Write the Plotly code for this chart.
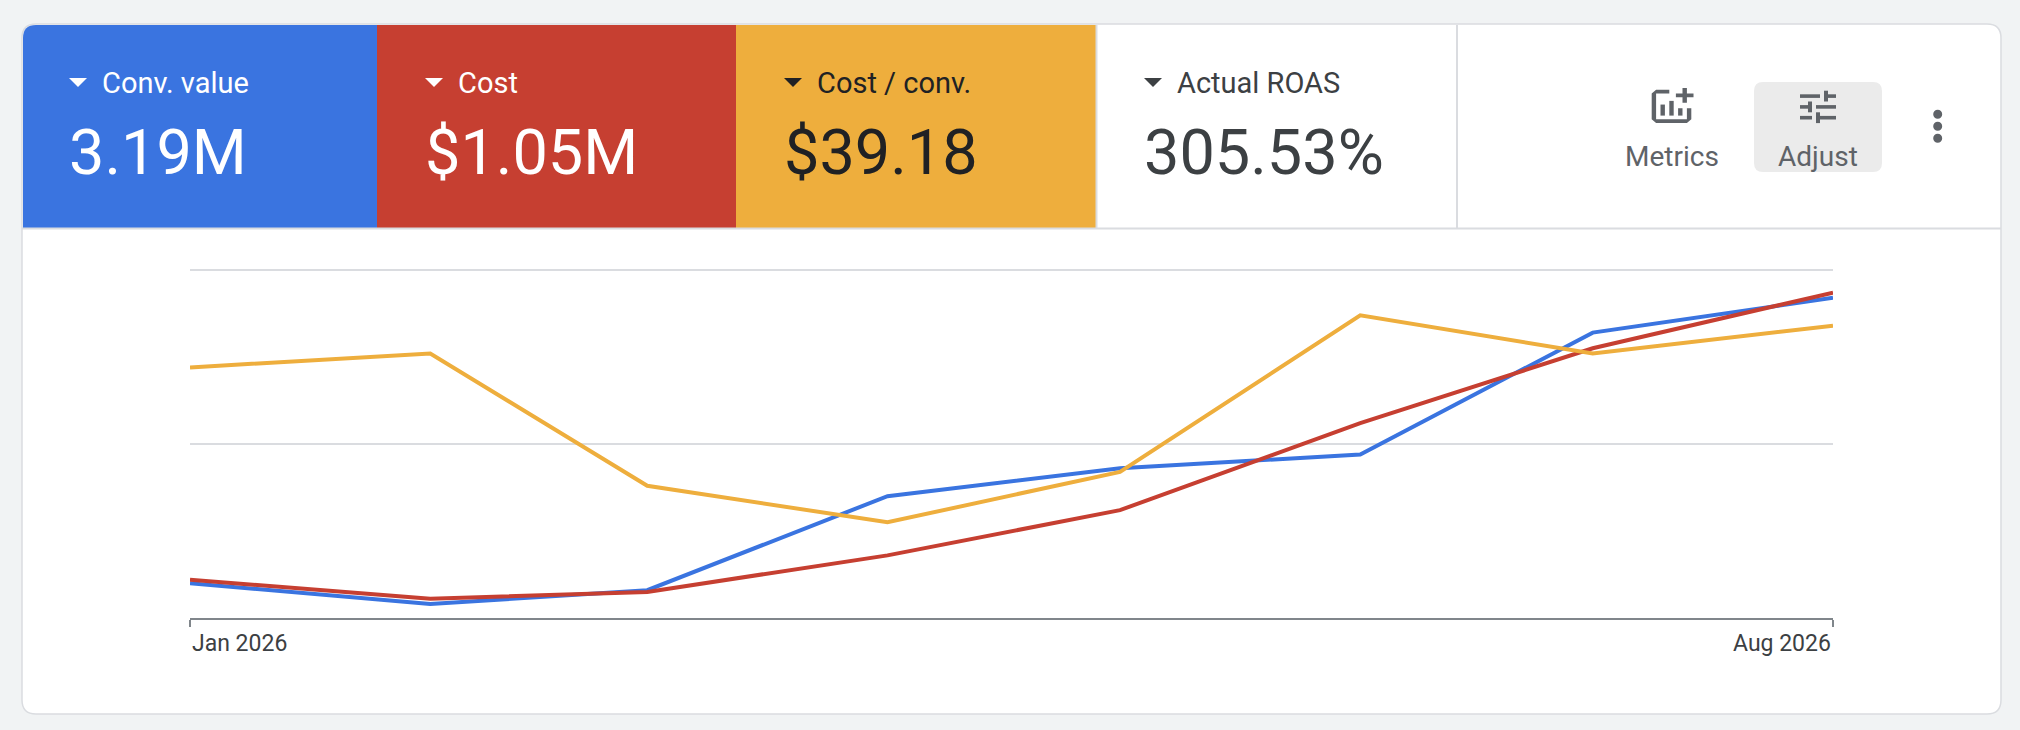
import plotly.graph_objects as go

# monthly points (chart units: one gridline step = 1)
months = ["2026-01-01", "2026-02-01", "2026-03-01", "2026-04-01",
          "2026-05-01", "2026-06-01", "2026-07-01", "2026-08-01"]
conv_value = [0.20, 0.08, 0.16, 0.70, 0.86, 0.94, 1.64, 1.84]
cost = [0.22, 0.11, 0.15, 0.36, 0.62, 1.12, 1.55, 1.87]
cost_per_conv = [1.44, 1.52, 0.76, 0.55, 0.84, 1.74, 1.52, 1.68]

metric_names = ["Conv. value", "Cost", "Cost / conv.", "Actual ROAS"]
metric_totals = ["3.19M", "$1.05M", "$39.18", "305.53%"]
tick_labels = ["Jan 2026", "Aug 2026"]

BLUE, RED, YELLOW = "#3a74e0", "#c63f31", "#eeae3d"
GREY_LINE = "#dadce0"
W, H = 2020, 730


def px(x):
    return x / W


def py(y):
    return 1 - y / H


def pt(x, y):
    return f"{px(x):.5f},{py(y):.5f}"


def rrect(x0, y0, x1, y1, tl=0, tr=0, br=0, bl=0):
    p = f"M{pt(x0 + tl, y0)} L{pt(x1 - tr, y0)}"
    if tr:
        p += f" Q{pt(x1, y0)} {pt(x1, y0 + tr)}"
    p += f" L{pt(x1, y1 - br)}"
    if br:
        p += f" Q{pt(x1, y1)} {pt(x1 - br, y1)}"
    p += f" L{pt(x0 + bl, y1)}"
    if bl:
        p += f" Q{pt(x0, y1)} {pt(x0, y1 - bl)}"
    p += f" L{pt(x0, y0 + tl)}"
    if tl:
        p += f" Q{pt(x0, y0)} {pt(x0 + tl, y0)}"
    return p + " Z"


def poly(points):
    return "M" + " L".join(pt(x, y) for x, y in points) + " Z"


shapes = []
annotations = []


def add_path(path, fill, line_color=None, line_width=0):
    shapes.append(dict(type="path", path=path, xref="paper", yref="paper",
                       fillcolor=fill, layer="below",
                       line=dict(color=line_color or fill, width=line_width)))


def add_line(x0, y0, x1, y1, color, width):
    shapes.append(dict(type="line", xref="paper", yref="paper", layer="below",
                       x0=px(x0), y0=py(y0), x1=px(x1), y1=py(y1),
                       line=dict(color=color, width=width)))


def add_text(x, y, text, size, color, anchor="left", weight=400, ref="paper"):
    annotations.append(dict(x=x if ref == "x" else px(x), y=py(y), xref=ref, yref="paper",
                            text=text, showarrow=False, xanchor=anchor, yanchor="middle",
                            font=dict(family="Roboto", size=size, color=color, weight=weight)))


# card
add_path(rrect(22, 24, 2001, 714, 14, 14, 14, 14), "white", GREY_LINE, 1.5)

# metric tiles
tiles = [(23, 377, BLUE, "white"), (377, 736, RED, "white"),
         (736, 1096, YELLOW, "#202124"), (1096, 1457, "white", "#3c4043")]
for i, (x0, x1, bg, fg) in enumerate(tiles):
    if i == 0:
        add_path(rrect(x0, 25, x1, 228, tl=13), bg)
    elif i < 3:
        add_path(rrect(x0, 25, x1, 228), bg)
    tx = x0 + 46 if i == 0 else x0 + 48
    add_path(poly([(tx, 78), (tx + 18, 78), (tx + 9, 87)]), fg)
    add_text(tx + 31, 82.5, metric_names[i], 29, fg)
    add_text(tx - 2, 152.5, metric_totals[i], 63, fg)

add_line(1096.5, 25, 1096.5, 228, GREY_LINE, 2)
add_line(1457, 25, 1457, 228, GREY_LINE, 2)
add_line(22, 228.5, 2001, 228.5, GREY_LINE, 2)

ICON = "#5f6368"

# "Metrics" button (add chart icon)
def mx(u):
    return 1651.7 + (u - 3) * 2.2


def my(v):
    return 88 + (v - 2) * 1.84


frame = [(11, 3), (5, 3), (3, 5), (3, 19), (5, 21), (19, 21), (21, 19), (21, 13),
         (19, 13), (19, 19), (5, 19), (5, 5), (11, 5)]
add_path(poly([(mx(u), my(v)) for u, v in frame]), ICON)
plus = [(17, 2), (19, 2), (19, 5), (22, 5), (22, 7), (19, 7), (19, 10), (17, 10),
        (17, 7), (14, 7), (14, 5), (17, 5)]
add_path(poly([(mx(u), my(v)) for u, v in plus]), ICON)
for u0, v0, u1, v1 in [(7, 11, 9, 17), (11, 9, 13, 17), (15, 13, 17, 17)]:
    add_path(rrect(mx(u0), my(v0), mx(u1), my(v1)), ICON)
add_text(1671.5, 156, "Metrics", 28, ICON, anchor="center")

# "Adjust" button (tune icon)
add_path(rrect(1754, 82, 1882, 172, 9, 9, 9, 9), "#ebebeb")


def ax_(u):
    return 1800 + (u - 3) * 2.0


def ay_(v):
    return 90.7 + (v - 3) * 1.8


for u0, v0, u1, v1 in [(3, 17, 9, 19), (3, 5, 13, 7), (11, 15, 13, 21), (13, 17, 21, 19),
                       (7, 9, 9, 15), (3, 11, 7, 13), (11, 11, 21, 13), (15, 3, 17, 9),
                       (17, 5, 21, 7)]:
    add_path(rrect(ax_(u0), ay_(v0), ax_(u1), ay_(v1)), ICON)
add_text(1817.5, 156, "Adjust", 28, ICON, anchor="center")

# overflow menu dots
for cy in [114.3, 126.2, 138.2]:
    shapes.append(dict(type="circle", xref="paper", yref="paper", layer="below",
                       x0=px(1933.2), x1=px(1942.2), y0=py(cy + 4.5), y1=py(cy - 4.5),
                       fillcolor=ICON, line=dict(width=0)))

fig = go.Figure()
for name, vals, color in [("Conv. value", conv_value, BLUE),
                          ("Cost", cost, RED),
                          ("Cost / conv.", cost_per_conv, YELLOW)]:
    fig.add_trace(go.Scatter(x=months, y=vals, mode="lines", name=name,
                             line=dict(color=color, width=4)))

# x tick labels sit flush with the first / last tick
add_text(months[0], 643, tick_labels[0], 23, "#3c4043", anchor="left", ref="x")
add_text(months[-1], 643, tick_labels[1], 23, "#3c4043", anchor="right", ref="x")

fig.update_layout(
    width=W, height=H,
    margin=dict(l=0, r=0, t=0, b=0),
    paper_bgcolor="#f1f3f4",
    plot_bgcolor="rgba(0,0,0,0)",
    showlegend=False,
    shapes=shapes,
    annotations=annotations,
    font=dict(family="Roboto"),
    xaxis=dict(domain=[px(190), px(1833)], type="date",
               range=[months[0], months[-1]],
               showgrid=False, zeroline=False,
               showline=True, linecolor="#80868b", linewidth=2,
               ticks="outside", ticklen=7, tickwidth=2, tickcolor="#80868b",
               tickvals=[months[0], months[-1]], showticklabels=False),
    yaxis=dict(domain=[py(618), py(261.3)], range=[0, 2.05],
               tick0=0, dtick=1, showticklabels=False,
               showgrid=True, gridcolor=GREY_LINE, gridwidth=2, zeroline=False),
)

fig.write_html("out.html", config={"displayModeBar": False},
               post_script="document.body.style.margin='0';")
